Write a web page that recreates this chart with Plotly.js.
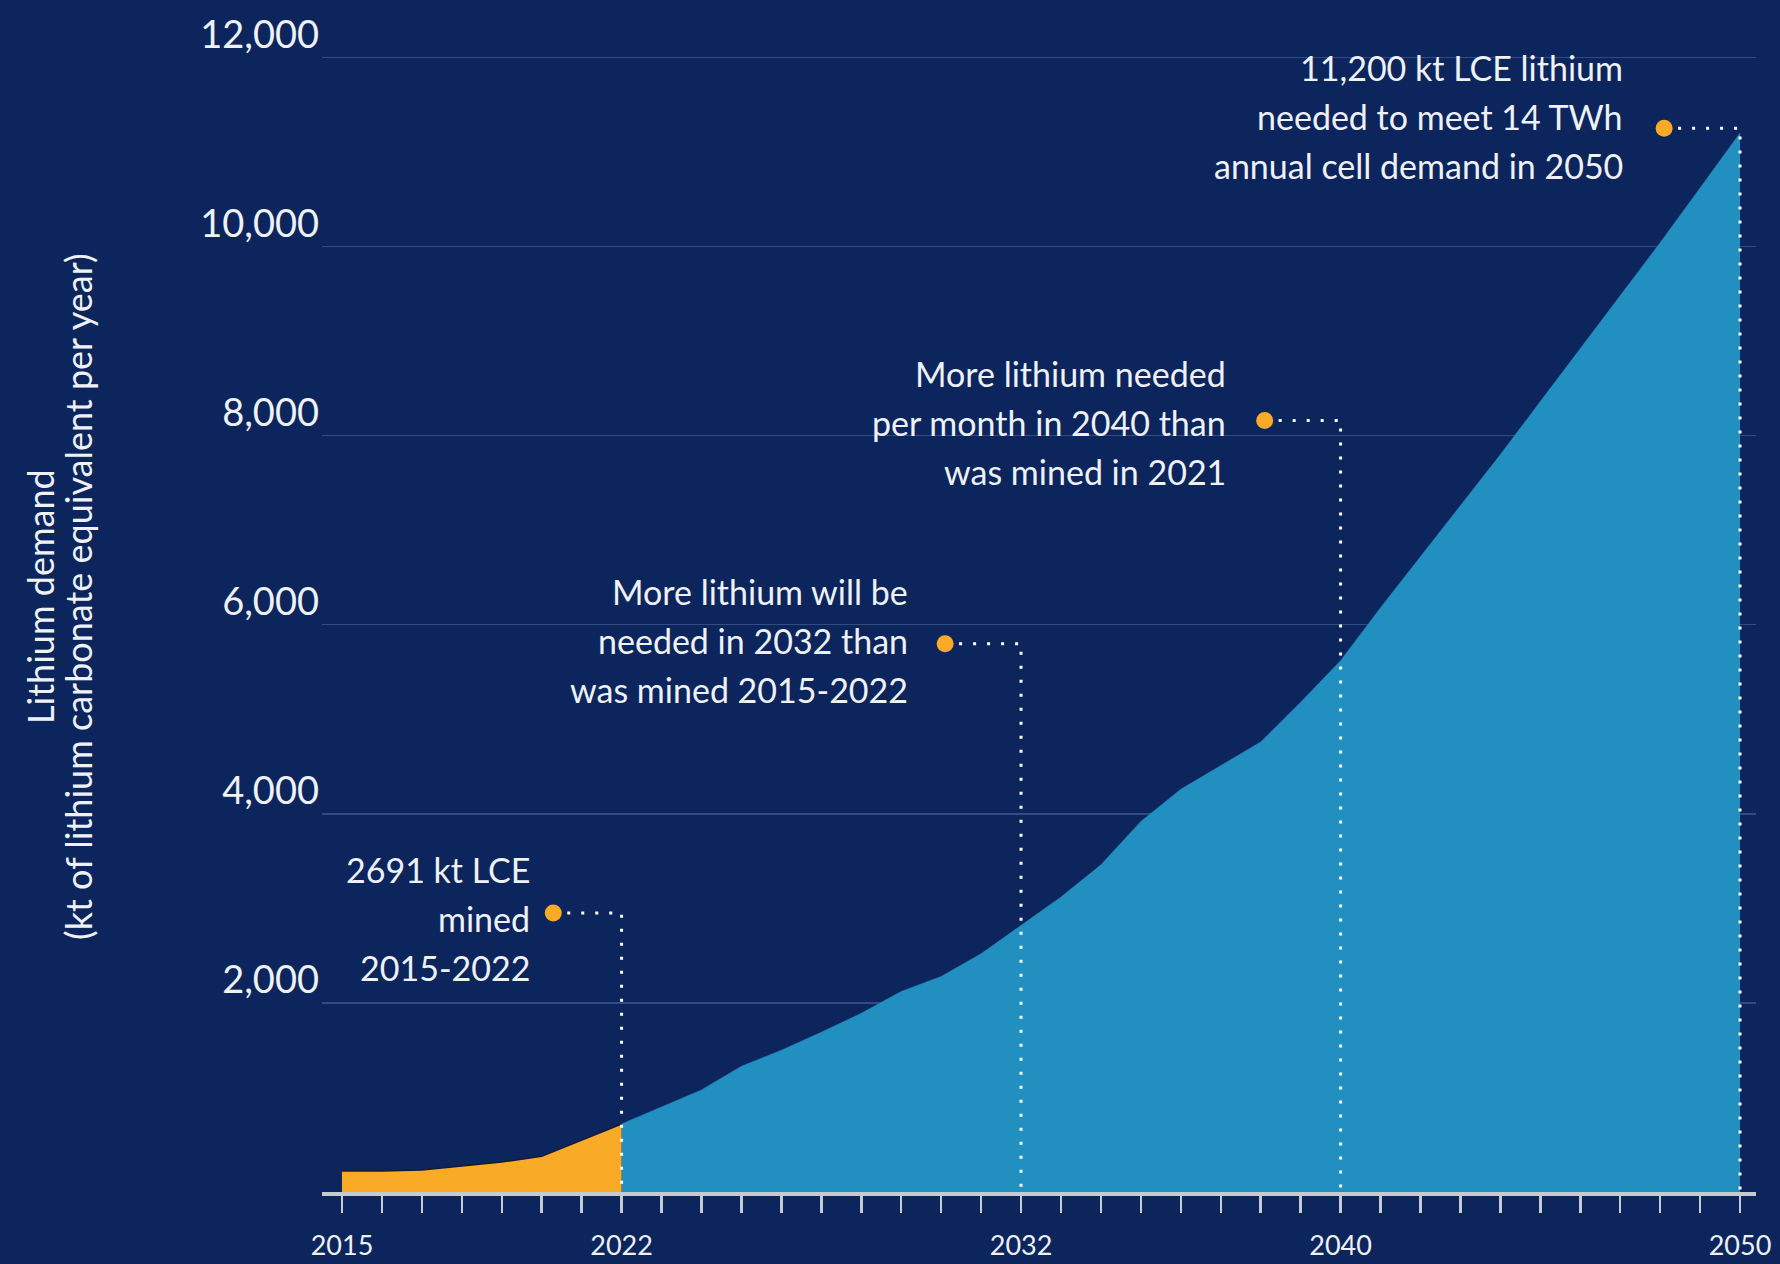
<!DOCTYPE html>
<html>
<head>
<meta charset="utf-8">
<script src="https://cdn.plot.ly/plotly-3.0.1.min.js"></script>
<style>
  html, body { margin: 0; padding: 0; background: #0c255c; }
  #chart { width: 1780px; height: 1264px; }
</style>
</head>
<body>
<div id="chart"></div>
<script>
// ---- data ----
const histYears  = [2015, 2016, 2017, 2018, 2019, 2020, 2021, 2022];
const histValues = [222, 222, 234, 272, 317, 377, 547, 720];

const projYears  = [2022, 2023, 2024, 2025, 2026, 2027, 2028, 2029, 2030, 2031,
                    2032, 2033, 2034, 2035, 2036, 2037, 2038, 2039, 2040, 2041,
                    2042, 2043, 2044, 2045, 2046, 2047, 2048, 2049, 2050];
const projValues = [720, 900, 1080, 1330, 1500, 1690, 1890, 2120, 2280, 2520,
                    2820, 3120, 3460, 3920, 4260, 4510, 4760, 5180, 5620, 6180,
                    6720, 7260, 7800, 8360, 8920, 9480, 10040, 10620, 11200];

const xTickLabelYears = [2015, 2022, 2032, 2040, 2050];
const yTickValues = [2000, 4000, 6000, 8000, 10000, 12000];

// callouts
const calloutDotYear    = [2020.29, 2030.1, 2038.1, 2048.1];
const calloutLevel      = [2950, 5800, 8160, 11250];
const calloutTargetYear = [2022, 2032, 2040, 2050];
const calloutTextYear   = [2019.76, 2029.23, 2037.19, 2047.13];
const calloutTextMid    = [2896, 5838, 8144, 11380];
const calloutLines = [
  ["2691 kt LCE", "mined", "2015-2022"],
  ["More lithium will be", "needed in 2032 than", "was mined 2015-2022"],
  ["More lithium needed", "per month in 2040 than", "was mined in 2021"],
  ["11,200 kt LCE lithium", "needed to meet 14 TWh", "annual cell demand in 2050"]
];
const yTitleLines = ["Lithium demand", "(kt of lithium carbonate equivalent per year)"];

// ---- styles ----
const BG = "#0c255c";
const BLUE = "#2190c0";
const ORANGE = "#f9aa26";
const TEXT = "#eef1f6";
const FONT = "Lato, 'Open Sans', sans-serif";
const AXIS = "#c6cad3";

const traces = [];
traces.push({
  x: projYears, y: projValues, type: "scatter", mode: "lines",
  fill: "tozeroy", fillcolor: BLUE, line: {color: BLUE, width: 0.5},
  hoverinfo: "skip", showlegend: false
});
traces.push({
  x: histYears, y: histValues, type: "scatter", mode: "lines",
  fill: "tozeroy", fillcolor: ORANGE, line: {color: "#141c33", width: 1.5},
  hoverinfo: "skip", showlegend: false
});
for (let i = 0; i < calloutDotYear.length; i++) {
  traces.push({
    x: [calloutDotYear[i] + 0.35, calloutTargetYear[i], calloutTargetYear[i]],
    y: [calloutLevel[i], calloutLevel[i], 0],
    type: "scatter", mode: "lines",
    line: {color: "#ffffff", width: 3, dash: "3px,11px"},
    hoverinfo: "skip", showlegend: false
  });
}
traces.push({
  x: calloutDotYear, y: calloutLevel, type: "scatter", mode: "markers",
  marker: {color: ORANGE, size: 17},
  hoverinfo: "skip", showlegend: false
});

// x ticks: every year, labels only on selected years
const allYears = [];
for (let y = 2015; y <= 2050; y++) allYears.push(y);
const allYearText = allYears.map(y => xTickLabelYears.includes(y) ? String(y) : "");

const annotations = [];
const lineGap = 518;
for (let i = 0; i < calloutLines.length; i++) {
  calloutLines[i].forEach((t, j) => {
    annotations.push({
      x: calloutTextYear[i], y: calloutTextMid[i] + (1 - j) * lineGap,
      xref: "x", yref: "y", text: t, showarrow: false,
      xanchor: "right", yanchor: "middle",
      font: {family: FONT, size: 34, color: TEXT}
    });
  });
}
const yTitleX = [-0.1967, -0.1702];
yTitleLines.forEach((t, j) => {
  annotations.push({
    x: yTitleX[j], y: 0.521, xref: "paper", yref: "paper",
    text: t, showarrow: false, textangle: -90,
    xanchor: "center", yanchor: "middle",
    font: {family: FONT, size: 36, color: TEXT}
  });
});

const layout = {
  width: 1780, height: 1264,
  paper_bgcolor: BG, plot_bgcolor: BG,
  margin: {l: 322, r: 24, t: 48, b: 72},
  showlegend: false,
  font: {family: FONT, color: TEXT},
  xaxis: {
    range: [2014.5, 2050.4],
    tickmode: "array", tickvals: allYears, ticktext: allYearText,
    ticks: "outside", ticklen: 17, tickwidth: 2.5, tickcolor: AXIS,
    showline: true, linecolor: AXIS, linewidth: 4,
    showgrid: false, zeroline: false,
    tickfont: {family: FONT, size: 27, color: TEXT},
    ticklabelstandoff: 10
  },
  yaxis: {
    range: [0, 12100],
    tickmode: "array", tickvals: yTickValues, tickformat: ",d",
    ticks: "", showline: false, zeroline: false,
    showgrid: true, gridcolor: "rgba(140,165,215,0.30)", gridwidth: 1.5,
    tickfont: {family: FONT, size: 38, color: TEXT},
    ticklabelshift: -23, ticklabelstandoff: 2
  },
  annotations: annotations
};

Plotly.newPlot("chart", traces, layout, {displayModeBar: false, staticPlot: true});
</script>
</body>
</html>
